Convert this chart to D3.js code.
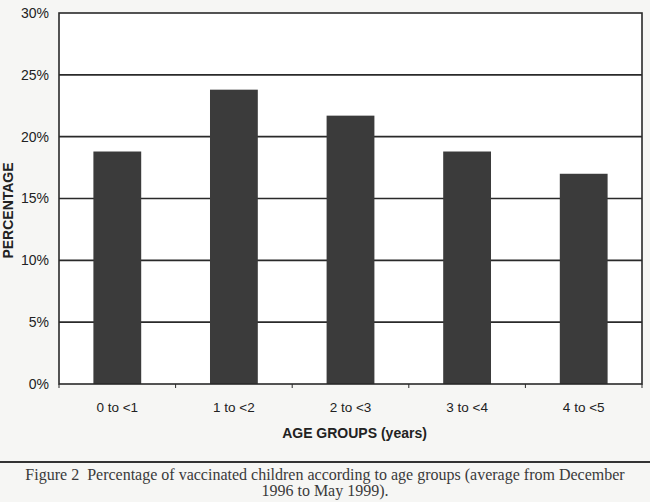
<!DOCTYPE html>
<html>
<head>
<meta charset="utf-8">
<script src="https://cdn.jsdelivr.net/npm/d3@7"></script>
<style>
  body { margin: 0; background: #f6f6f4; }
  svg { display: block; }
</style>
</head>
<body>
<div id="chart"></div>
<script>
const ageGroups = ["0 to <1", "1 to <2", "2 to <3", "3 to <4", "4 to <5"];
const percentages = [18.8, 23.8, 21.7, 18.8, 17.0];
const yTicks = [0, 5, 10, 15, 20, 25, 30];
const captionLines = [
    "Figure 2  Percentage of vaccinated children according to age groups (average from December",
    "1996 to May 1999)."
];

const W = 650, H = 502;
const margin = {top: 13, right: 8, bottom: 118, left: 59};
const width = W - margin.left - margin.right;
const height = H - margin.top - margin.bottom;

const svg = d3.select("#chart").append("svg")
    .attr("width", W)
    .attr("height", H);

const g = svg.append("g")
    .attr("transform", `translate(${margin.left},${margin.top})`);

const x = d3.scaleBand()
    .domain(ageGroups)
    .range([0, width])
    .paddingInner(0.59)
    .paddingOuter(0.295);

const y = d3.scaleLinear()
    .domain([0, 30])
    .range([height, 0]);

// plot background
g.append("rect")
    .attr("width", width)
    .attr("height", height)
    .attr("fill", "#ffffff");

// grid lines
g.selectAll(".grid")
    .data(yTicks.filter(d => d > 0 && d < 30))
    .enter().append("line")
    .attr("x1", 0)
    .attr("x2", width)
    .attr("y1", d => y(d))
    .attr("y2", d => y(d))
    .attr("stroke", "#2a2a2a")
    .attr("stroke-width", 1.6);

// bars
g.selectAll(".bar")
    .data(percentages)
    .enter().append("rect")
    .attr("x", (d, i) => x(ageGroups[i]))
    .attr("y", d => y(d))
    .attr("width", x.bandwidth())
    .attr("height", d => height - y(d))
    .attr("fill", "#3b3b3b");

// frame
g.append("rect")
    .attr("width", width)
    .attr("height", height)
    .attr("fill", "none")
    .attr("stroke", "#2a2a2a")
    .attr("stroke-width", 1.6);

// y axis
const yAxis = g.append("g")
    .call(d3.axisLeft(y).tickValues(yTicks).tickFormat(d => d + "%").tickSize(0).tickPadding(10));
yAxis.select(".domain").remove();
yAxis.selectAll("text")
    .attr("font-family", "Liberation Sans, Arial, sans-serif")
    .attr("font-size", 14)
    .attr("fill", "#222");

// x axis ticks between categories
const bounds = d3.range(ageGroups.length + 1).map(i => i * x.step());
g.selectAll(".xtick")
    .data(bounds)
    .enter().append("line")
    .attr("x1", d => d)
    .attr("x2", d => d)
    .attr("y1", height)
    .attr("y2", height + 4)
    .attr("stroke", "#2a2a2a")
    .attr("stroke-width", 1);

const xAxis = g.append("g")
    .attr("transform", `translate(0,${height})`)
    .call(d3.axisBottom(x).tickSize(0).tickPadding(18));
xAxis.select(".domain").remove();
xAxis.selectAll("text")
    .attr("font-family", "Liberation Sans, Arial, sans-serif")
    .attr("font-size", 13.5)
    .attr("fill", "#222");

// axis titles
g.append("text")
    .attr("transform", `translate(${-margin.left + 13},${height / 2 + 12}) rotate(-90)`)
    .attr("text-anchor", "middle")
    .attr("font-family", "Liberation Sans, Arial, sans-serif")
    .attr("font-weight", "bold")
    .attr("font-size", 14)
    .attr("fill", "#222")
    .text("PERCENTAGE");

g.append("text")
    .attr("x", width / 2 + 4)
    .attr("y", height + 54)
    .attr("text-anchor", "middle")
    .attr("font-family", "Liberation Sans, Arial, sans-serif")
    .attr("font-weight", "bold")
    .attr("font-size", 14)
    .attr("fill", "#222")
    .text("AGE GROUPS (years)");

// caption rule and text
svg.append("line")
    .attr("x1", 0)
    .attr("x2", W)
    .attr("y1", 462)
    .attr("y2", 462)
    .attr("stroke", "#333")
    .attr("stroke-width", 2);

svg.selectAll(".caption")
    .data(captionLines)
    .enter().append("text")
    .attr("x", 325)
    .attr("y", (d, i) => 480 + i * 16)
    .attr("text-anchor", "middle")
    .attr("font-family", "Liberation Serif, Times New Roman, serif")
    .attr("font-size", 16)
    .attr("fill", "#3a3a3a")
    .style("white-space", "pre")
    .text(d => d);
</script>
</body>
</html>
